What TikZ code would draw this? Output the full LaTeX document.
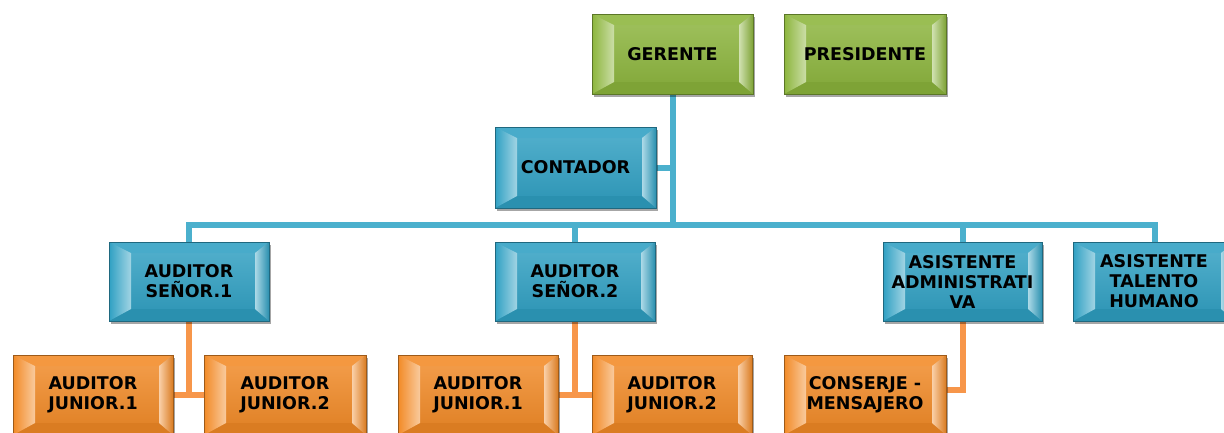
\documentclass[tikz,border=0pt]{standalone}
\usepackage{fontspec}
\setmainfont{DejaVu Sans}
\usetikzlibrary{shadows,backgrounds,calc}
\definecolor{gbase}{HTML}{8CB53C}
\definecolor{bbase}{HTML}{2FA0C3}
\definecolor{obase}{HTML}{F28A26}
\definecolor{bline}{HTML}{4BB0CD}
\definecolor{oline}{HTML}{F7964A}
\tikzset{
  orgbox/.style={minimum width=160pt, minimum height=80pt, inner sep=0pt,
    align=center, font=\bfseries\fontsize{17.5}{20}\selectfont,
    top color=#1!82!white, bottom color=#1!92!black,
    draw=#1!65!black, line width=0.5pt,
    drop shadow={shadow xshift=2pt, shadow yshift=-3pt, opacity=0.35, fill=black},
    path picture={
      \coordinate (NW) at (path picture bounding box.north west);
      \coordinate (NE) at (path picture bounding box.north east);
      \coordinate (SW) at (path picture bounding box.south west);
      \coordinate (SE) at (path picture bounding box.south east);
      \fill[#1!88!white] (NW) -- (NE) -- ($(NE)+(-14pt,-11pt)$) -- ($(NW)+(22pt,-11pt)$) -- cycle;
      \fill[#1!90!black] (SW) -- (SE) -- ($(SE)+(-14pt,12pt)$) -- ($(SW)+(22pt,12pt)$) -- cycle;
      \shade[left color=#1, right color=#1!45!white] (NW) -- ($(NW)+(22pt,-11pt)$) -- ($(SW)+(22pt,12pt)$) -- (SW) -- cycle;
      \shade[left color=#1!40!white, right color=#1!90!black] (NE) -- ($(NE)+(-14pt,-11pt)$) -- ($(SE)+(-14pt,12pt)$) -- (SE) -- cycle;
    }},
  bconn/.style={draw=bline, line width=6pt},
  oconn/.style={draw=oline, line width=6pt}
}
\begin{document}
\begin{tikzpicture}[x=1pt, y=-1pt]
\useasboundingbox (0,0) rectangle (1224,432);
% level 0
\node[orgbox=gbase, minimum width=161pt] (gerente) at (672.5,54) {GERENTE};
\node[orgbox=gbase, minimum width=162pt] (presidente) at (865,54) {PRESIDENTE};
% level 1
\node[orgbox=bbase, minimum width=161pt, minimum height=81pt] (contador) at (575.5,167.5) {CONTADOR};
% level 2
\node[orgbox=bbase, minimum height=79pt] (senor1) at (189,281.5) {AUDITOR\\SEÑOR.1};
\node[orgbox=bbase, minimum height=79pt] (senor2) at (575,281.5) {AUDITOR\\SEÑOR.2};
\node[orgbox=bbase, minimum width=159pt, minimum height=79pt] (admin) at (962.5,281.5) {ASISTENTE\\ADMINISTRATI\\VA};
\node[orgbox=bbase, minimum width=162pt, minimum height=79pt] (talento) at (1154,281.5) {ASISTENTE\\TALENTO\\HUMANO};
% level 3
\node[orgbox=obase] (j1a) at (93,395) {AUDITOR\\JUNIOR.1};
\node[orgbox=obase, minimum width=162pt] (j2a) at (285,395) {AUDITOR\\JUNIOR.2};
\node[orgbox=obase] (j1b) at (478,395) {AUDITOR\\JUNIOR.1};
\node[orgbox=obase] (j2b) at (672,395) {AUDITOR\\JUNIOR.2};
\node[orgbox=obase, minimum width=162pt] (conserje) at (865,395) {CONSERJE -\\MENSAJERO};
% connectors
\coordinate (busL) at (189,225);
\coordinate (busR) at (1155,225);
\begin{scope}[on background layer]
\fill[white] (0,0) rectangle (1224,432);
\draw[bconn] (gerente.south) -- (gerente.south |- busL);
\draw[bconn] (contador.east) -- (contador.east -| gerente.south);
\draw[bconn, line cap=rect] (busL) -- (busR);
\draw[bconn] (senor1.north) -- (senor1.north |- busL);
\draw[bconn] (senor2.north) -- (senor2.north |- busL);
\draw[bconn] (admin.north) -- (admin.north |- busL);
\draw[bconn] (busR) -- (busR |- talento.north);
\draw[oconn] (j1a.east) -- (j2a.west);
\draw[oconn] (senor1.south) -- (senor1.south |- j1a.east);
\draw[oconn] (j1b.east) -- (j2b.west);
\draw[oconn] (senor2.south) -- (senor2.south |- j1b.east);
\draw[oconn, line join=miter] (admin.south) -- ([yshift=5pt]admin.south |- conserje.east) -- ([yshift=5pt]conserje.east);
\end{scope}
\end{tikzpicture}
\end{document}
